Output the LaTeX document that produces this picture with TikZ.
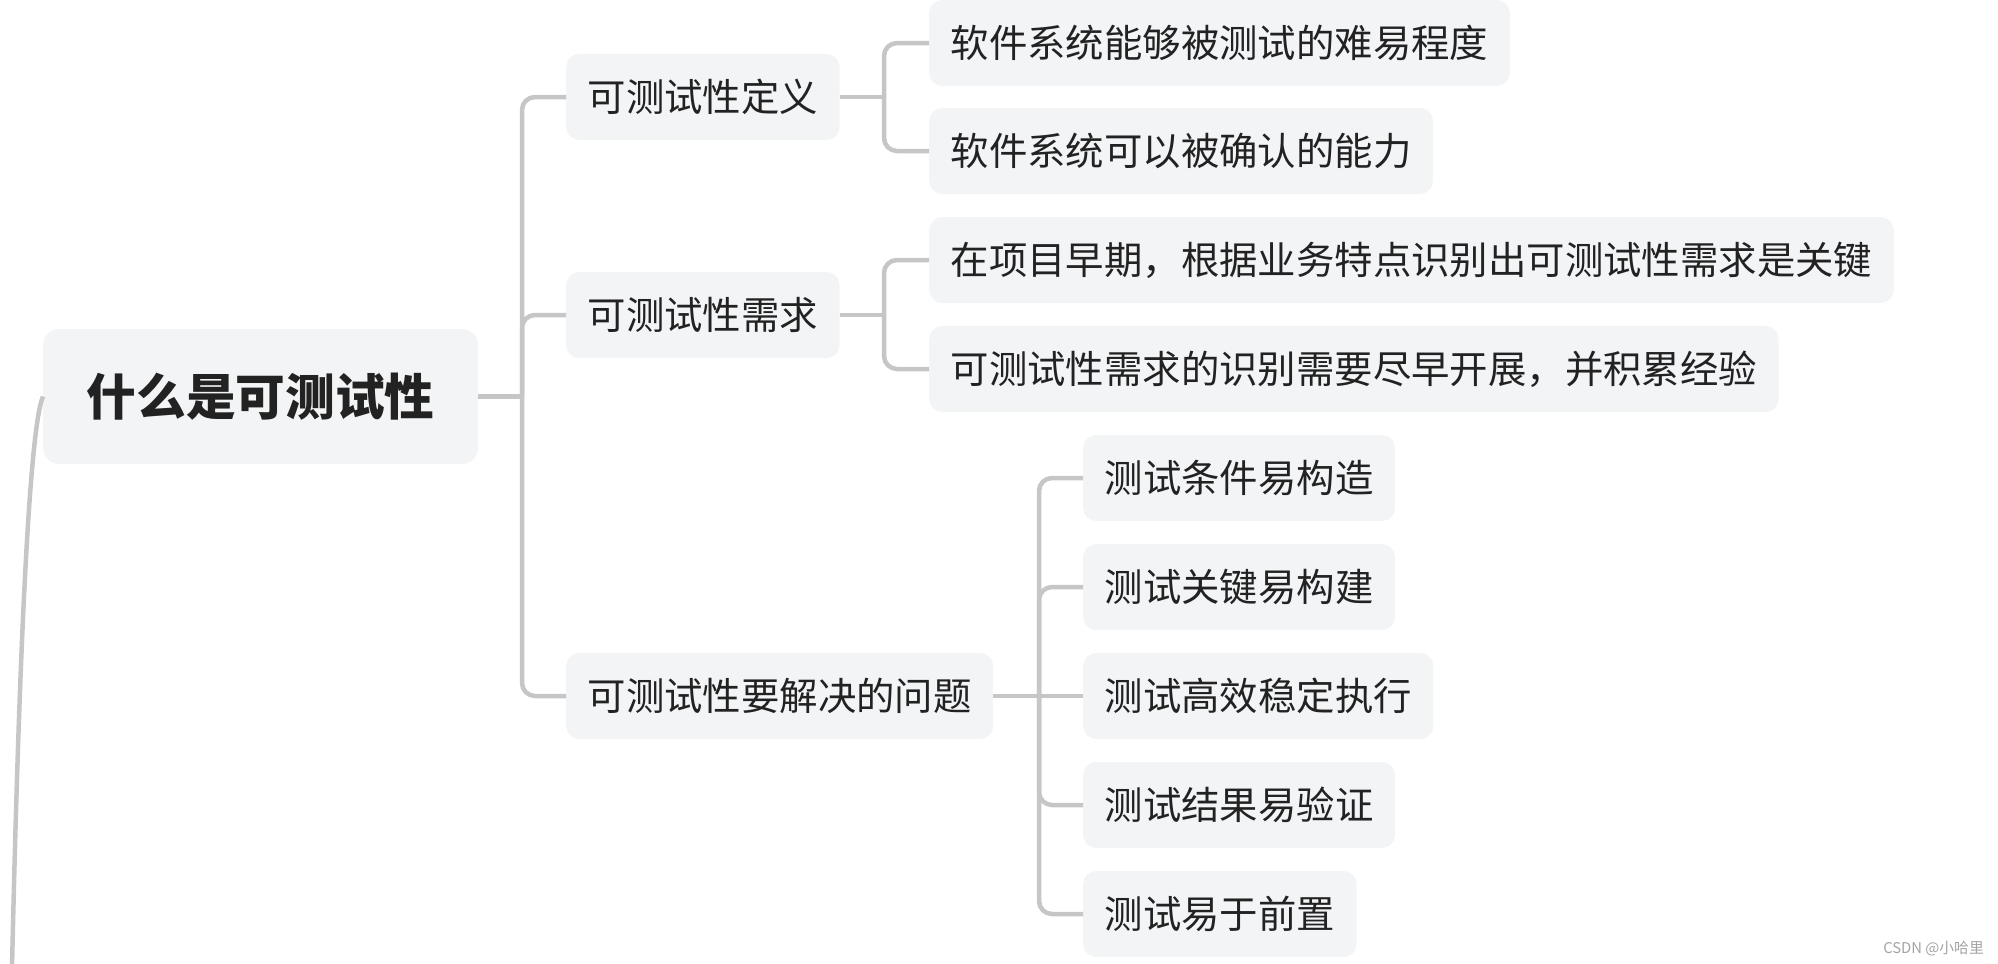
\documentclass[tikz,border=0pt]{standalone}
\usepackage{fontspec}
\setmainfont{Noto Sans CJK SC}
\definecolor{boxfill}{HTML}{F3F4F6}
\definecolor{linec}{HTML}{C6C6C6}
\definecolor{txt}{HTML}{222222}
\definecolor{wmcol}{HTML}{A3A3A3}
\begin{document}
\begin{tikzpicture}[x=1pt,y=-1pt,
  box/.style={fill=boxfill, rounded corners=13pt, inner xsep=21.5pt, inner ysep=0pt,
    minimum height=86pt, text=txt, font=\fontsize{38.4}{46}\selectfont, anchor=west},
  rootbox/.style={box, rounded corners=16pt, inner xsep=43.5pt, minimum height=135pt,
    font=\fontsize{49.7}{60}\selectfont\bfseries},
  link/.style={draw=linec, line width=4.5pt, rounded corners=13pt}]
\useasboundingbox (0,0) rectangle (1998,964);

% nodes
\node[rootbox] (root) at (43,396.5) {什么是可测试性};
\node[box] (La) at (566,97) {可测试性定义};
\node[box] (Lb) at (566,315) {可测试性需求};
\node[box] (Lc) at (566,696) {可测试性要解决的问题};

\node[box] (a1) at (929,43) {软件系统能够被测试的难易程度};
\node[box] (a2) at (929,151) {软件系统可以被确认的能力};
\node[box] (b1) at (929,260) {在项目早期，根据业务特点识别出可测试性需求是关键};
\node[box] (b2) at (929,369) {可测试性需求的识别需要尽早开展，并积累经验};

\node[box] (c1) at (1083,478) {测试条件易构造};
\node[box] (c2) at (1083,587) {测试关键易构建};
\node[box] (c3) at (1083,696) {测试高效稳定执行};
\node[box] (c4) at (1083,805) {测试结果易验证};
\node[box] (c5) at (1083,914) {测试易于前置};

% junctions
\coordinate (j0) at (522,396.5);
\coordinate (ja) at (884,97);
\coordinate (jb) at (884,315);
\coordinate (jc) at (1039,696);
\coordinate (tail) at (12,968);

% connectors
\draw[link] (root.east) -- (j0);
\draw[link] (j0) |- (La.west);
\draw[link] (j0) |- (Lb.west);
\draw[link] (j0) |- (Lc.west);

\draw[link] (La.east) -- (ja);
\draw[link] (ja) |- (a1.west);
\draw[link] (ja) |- (a2.west);

\draw[link] (Lb.east) -- (jb);
\draw[link] (jb) |- (b1.west);
\draw[link] (jb) |- (b2.west);

\draw[link] (Lc.east) -- (jc);
\draw[link] (jc) |- (c1.west);
\draw[link] (jc) |- (c2.west);
\draw[link] (jc) -- (c3.west);
\draw[link] (jc) |- (c4.west);
\draw[link] (jc) |- (c5.west);

\draw[draw=linec, line width=4.5pt] (root.west) .. controls (28,430) and (18,700) .. (tail);

% watermark
\node[anchor=east, text=wmcol, font=\fontsize{14.8}{18}\selectfont, inner sep=0pt] (wm) at (1984,949) {CSDN @小哈里};
\end{tikzpicture}
\end{document}
